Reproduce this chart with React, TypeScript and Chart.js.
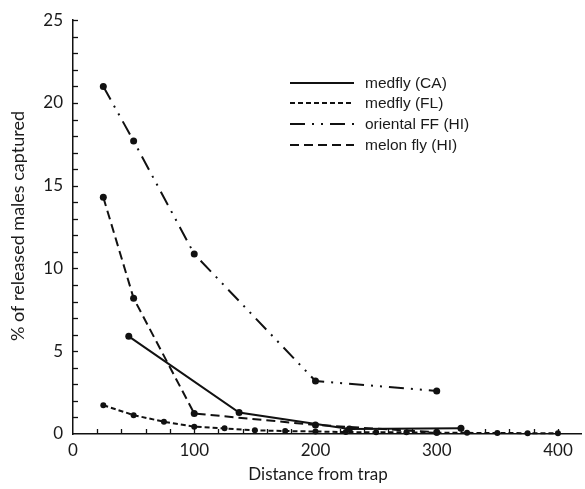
import React, { useEffect, useRef } from "react";
import { Chart, registerables } from "chart.js";

Chart.register(...registerables);

// Capture (% of released males) by distance from trap (m)
const medflyCAx = [46, 137, 228, 320];
const medflyCAy = [5.9, 1.3, 0.3, 0.35];

const medflyFLx = [25, 50, 75, 100, 125, 150, 175, 200, 225, 250, 275, 300, 325, 350, 375, 400];
const medflyFLy = [1.74, 1.14, 0.74, 0.44, 0.34, 0.22, 0.18, 0.15, 0.12, 0.1, 0.1, 0.08, 0.07, 0.06, 0.05, 0.05];

const orientalx = [25, 50, 100, 200, 300];
const orientaly = [21.0, 17.7, 10.87, 3.2, 2.6];

const melonx = [25, 50, 100, 200, 300];
const melony = [14.3, 8.2, 1.24, 0.55, 0.1];

const seriesNames = ["medfly (CA)", "medfly (FL)", "oriental FF (HI)", "melon fly (HI)"];
const yTicks = [0, 5, 10, 15, 20, 25];
const xTicks = [0, 100, 200, 300, 400];

const xTitle = "Distance from trap";
const yTitle = "% of released males captured";

const INK = "#111111";
const dashes: number[][] = [[], [5, 3], [15, 7, 2, 7, 2, 7], [9, 5]];
const TICK_FONT = "Lato";

const pts = (xs: number[], ys: number[]) => xs.map((x, i) => ({ x, y: ys[i] }));

export default function App() {
  const ref = useRef<HTMLCanvasElement | null>(null);

  useEffect(() => {
    document.body.style.margin = "0";
    const canvas = ref.current;
    if (!canvas) return;

    const series = [
      pts(medflyCAx, medflyCAy),
      pts(medflyFLx, medflyFLy),
      pts(orientalx, orientaly),
      pts(melonx, melony),
    ];

    const decorations = {
      id: "decorations",
      afterDraw(chart: any) {
        const ctx = chart.ctx as CanvasRenderingContext2D;
        const xs = chart.scales.x;
        const ys = chart.scales.y;
        const x0 = xs.getPixelForValue(0);
        const y0 = ys.getPixelForValue(0);
        ctx.save();
        ctx.strokeStyle = INK;
        ctx.lineWidth = 1.3;
        ctx.setLineDash([]);
        // inward minor/major ticks
        for (let v = 1; v <= 25; v++) {
          const py = Math.round(ys.getPixelForValue(v)) + 0.5;
          ctx.beginPath();
          ctx.moveTo(x0, py);
          ctx.lineTo(x0 + 5, py);
          ctx.stroke();
        }
        for (let v = 20; v <= 400; v += 20) {
          const px = Math.round(xs.getPixelForValue(v)) + 0.5;
          ctx.beginPath();
          ctx.moveTo(px, y0);
          ctx.lineTo(px, y0 - 5);
          ctx.stroke();
        }

        // axis titles
        ctx.fillStyle = "#1a1a1a";
        ctx.font = `17px ${TICK_FONT}`;
        ctx.textAlign = "center";
        ctx.textBaseline = "middle";
        ctx.fillText(xTitle, 318, 475);
        ctx.save();
        ctx.translate(18, 226);
        ctx.rotate(-Math.PI / 2);
        ctx.font = `18px ${TICK_FONT}`;
        ctx.fillText(yTitle, 0, 0);
        ctx.restore();

        // legend
        const lx0 = 290, lx1 = 354, tx = 365;
        const rows = [83, 103, 124, 145];
        ctx.font = "15.5px 'Liberation Sans', Arial, sans-serif";
        ctx.textAlign = "left";
        seriesNames.forEach((name, i) => {
          ctx.beginPath();
          ctx.lineWidth = 2;
          ctx.setLineDash(dashes[i]);
          ctx.moveTo(lx0, rows[i]);
          ctx.lineTo(lx1, rows[i]);
          ctx.stroke();
          ctx.setLineDash([]);
          ctx.fillText(name, tx, rows[i] + 1);
        });
        ctx.restore();
      },
    };

    const chart = new Chart(canvas, {
      type: "line",
      data: {
        datasets: series.map((data, i) => ({
          label: seriesNames[i],
          data,
          borderColor: INK,
          backgroundColor: INK,
          borderWidth: 2,
          borderDash: dashes[i],
          pointRadius: i === 1 ? 3 : 3.5,
          pointBackgroundColor: INK,
          pointBorderWidth: 0,
          tension: 0,
          clip: false as any,
        })),
      },
      plugins: [decorations],
      options: {
        responsive: false,
        animation: false,
        devicePixelRatio: 1,
        layout: { padding: { top: 17, right: 0, left: 0, bottom: 0 } },
        plugins: { legend: { display: false }, tooltip: { enabled: false } },
        scales: {
          x: {
            type: "linear",
            min: 0,
            max: 419,
            grid: { display: false, drawTicks: false },
            border: { display: true, color: INK, width: 1.5 },
            afterBuildTicks: (s: any) => {
              s.ticks = xTicks.map((value) => ({ value }));
            },
            afterFit: (s: any) => {
              s.height = 55;
            },
            ticks: {
              padding: 6,
              color: "#1a1a1a",
              font: { family: TICK_FONT, size: 17 },
              maxRotation: 0,
            },
          },
          y: {
            type: "linear",
            min: 0,
            max: 25,
            grid: { display: false, drawTicks: false },
            border: { display: true, color: INK, width: 1.5 },
            afterBuildTicks: (s: any) => {
              s.ticks = yTicks.map((value) => ({ value }));
            },
            afterFit: (s: any) => {
              s.width = 73;
            },
            ticks: {
              padding: 10,
              color: "#1a1a1a",
              font: { family: TICK_FONT, size: 17 },
            },
          },
        },
      },
    });

    return () => chart.destroy();
  }, []);

  return (
    <div style={{ width: 585, height: 489 }}>
      <canvas ref={ref} width={585} height={489} />
    </div>
  );
}
